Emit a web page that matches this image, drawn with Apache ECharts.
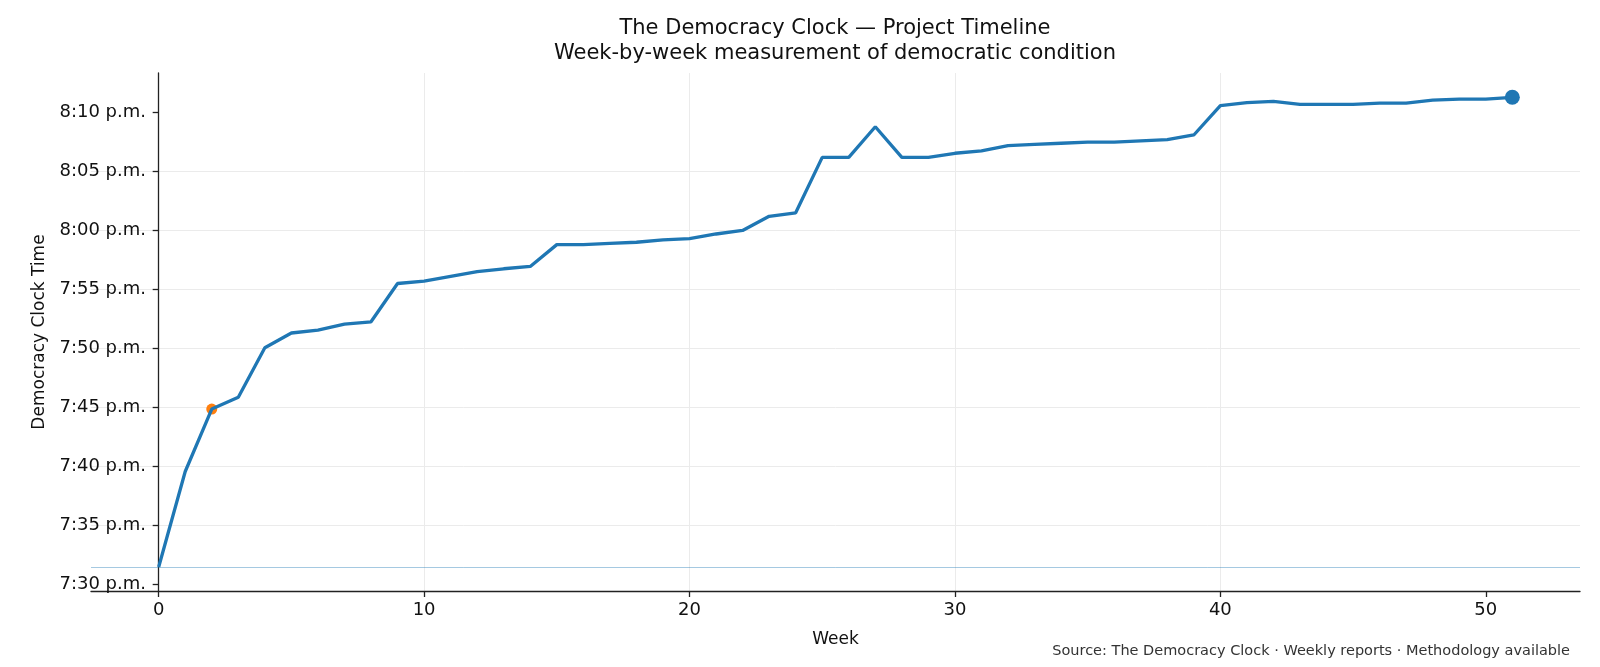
<!DOCTYPE html>
<html lang="en">
<head>
<meta charset="UTF-8">
<title>The Democracy Clock — Project Timeline</title>
<style>
  html, body { margin: 0; padding: 0; background: #fff; }
  #chart { width: 1600px; height: 667px; }
</style>
</head>
<body>
<div id="chart"></div>
<script src="https://cdn.jsdelivr.net/npm/echarts@6/dist/echarts.min.js"></script>
<script>
// weeks of the project
var weeks = [0, 1, 2, 3, 4, 5, 6, 7, 8, 9, 10, 11, 12, 13, 14, 15, 16, 17, 18, 19,
  20, 21, 22, 23, 24, 25, 26, 27, 28, 29, 30, 31, 32, 33, 34, 35, 36, 37, 38, 39,
  40, 41, 42, 43, 44, 45, 46, 47, 48, 49, 50, 51];
// clock reading, minutes after 7:30 p.m.
var clockMinutes = [1.45, 9.55, 14.85, 15.85, 20.05, 21.3, 21.55, 22.05, 22.25, 25.5,
  25.7, 26.1, 26.5, 26.75, 26.95, 28.8, 28.8, 28.9, 29.0, 29.2,
  29.3, 29.7, 30.0, 31.2, 31.5, 36.2, 36.2, 38.8, 36.2, 36.2,
  36.55, 36.75, 37.2, 37.3, 37.4, 37.5, 37.5, 37.6, 37.7, 38.1,
  40.6, 40.85, 40.95, 40.7, 40.7, 40.7, 40.8, 40.8, 41.05, 41.15,
  41.15, 41.3];
var xTicks = [0, 10, 20, 30, 40, 50];
var yTicks = [0, 5, 10, 15, 20, 25, 30, 35, 40];
var highlightWeek = 2;
var latestWeek = 51;

var FONT = 'DejaVu Sans';

function clockLabel(m) {
  var total = 19 * 60 + 30 + Math.round(m);
  var h = Math.floor(total / 60) % 12;
  var mm = total % 60;
  return h + ':' + (mm < 10 ? '0' + mm : mm) + ' p.m.';
}

var lineData = weeks.map(function (w, i) { return [w, clockMinutes[i]]; });

var chart = echarts.init(document.getElementById('chart'));
chart.setOption({
  animation: false,
  backgroundColor: '#fff',
  textStyle: { fontFamily: FONT },
  grid: { left: 91, right: 20, top: 73, bottom: 76, containLabel: false, outerBoundsMode: 'none' },
  xAxis: {
    type: 'value',
    min: -2.55,
    max: 53.55,
    name: 'Week',
    nameLocation: 'middle',
    nameGap: 40,
    nameTextStyle: { fontSize: 17, color: '#111', fontFamily: FONT },
    axisLine: { onZero: false, lineStyle: { color: '#222', width: 1.3 } },
    axisTick: { customValues: xTicks, length: 6, lineStyle: { color: '#222', width: 1.3 } },
    axisLabel: { customValues: xTicks, fontSize: 18, color: '#111', margin: 10, fontFamily: FONT },
    splitLine: { show: true, showMinLine: false, showMaxLine: false, lineStyle: { color: '#ebebeb', width: 1 } }
  },
  yAxis: {
    type: 'value',
    min: -0.59,
    max: 43.36,
    splitNumber: 9,
    name: 'Democracy Clock Time',
    nameLocation: 'middle',
    nameGap: 42,
    nameTextStyle: { fontSize: 17, color: '#111', fontFamily: FONT },
    axisLine: { show: true, onZero: true, lineStyle: { color: '#222', width: 1.3 } },
    axisTick: { show: true, customValues: yTicks, length: 6, lineStyle: { color: '#222', width: 1.3 } },
    axisLabel: {
      customValues: yTicks, fontSize: 18, color: '#111', margin: -55, fontFamily: FONT,
      formatter: function (v) { return clockLabel(v); }
    },
    splitLine: { show: true, showMinLine: false, showMaxLine: false, lineStyle: { color: '#ebebeb', width: 1 } }
  },
  graphic: [
    { type: 'text', x: 835, y: 29, style: { text: 'The Democracy Clock — Project Timeline', font: '21px "DejaVu Sans"', fill: '#111', textAlign: 'center', textVerticalAlign: 'middle' } },
    { type: 'text', x: 835, y: 54, style: { text: 'Week-by-week measurement of democratic condition', font: '21px "DejaVu Sans"', fill: '#111', textAlign: 'center', textVerticalAlign: 'middle' } },
    { type: 'text', x: 1570, y: 651, style: { text: 'Source: The Democracy Clock · Weekly reports · Methodology available', font: '14.5px "DejaVu Sans"', fill: '#333', textAlign: 'right', textVerticalAlign: 'middle' } }
  ],
  series: [
    {
      type: 'line',
      data: lineData,
      showSymbol: false,
      z: 3,
      lineStyle: { color: '#1f77b4', width: 3.3 },
      itemStyle: { color: '#1f77b4' },
      markLine: {
        silent: true,
        symbol: 'none',
        label: { show: false },
        lineStyle: { color: 'rgba(31,119,180,0.4)', width: 1, type: 'solid' },
        data: [{ yAxis: clockMinutes[0] }]
      }
    },
    {
      type: 'scatter',
      data: [[highlightWeek, clockMinutes[weeks.indexOf(highlightWeek)]]],
      symbolSize: 11,
      z: 2,
      itemStyle: { color: '#ff7f0e', opacity: 1 }
    },
    {
      type: 'scatter',
      data: [[latestWeek, clockMinutes[weeks.indexOf(latestWeek)]]],
      symbolSize: 15,
      z: 4,
      itemStyle: { color: '#1f77b4', opacity: 1 }
    }
  ]
});
</script>
</body>
</html>
